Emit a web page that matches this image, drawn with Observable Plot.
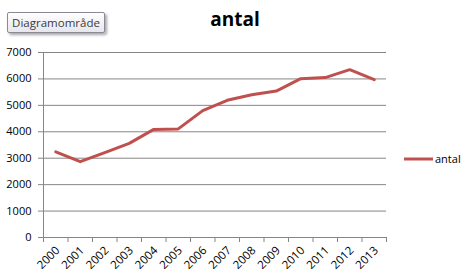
<!DOCTYPE html>
<html>
<head>
<meta charset="utf-8">
<script src="https://cdn.jsdelivr.net/npm/d3@7"></script>
<script src="https://cdn.jsdelivr.net/npm/@observablehq/plot@0.6"></script>
<style>
  html, body { margin: 0; padding: 0; background: #fff; }
  #wrap { position: relative; width: 470px; height: 279px; overflow: hidden; font-family: "Open Sans", sans-serif; }
  #title { position: absolute; left: 0; width: 470px; top: 6px; text-align: center; font-weight: bold; font-size: 19px; color: #000; line-height: 26px; }
  #btn { position: absolute; left: 7px; top: 12px; width: 96px; height: 19px; border: 1px solid #8a8a96; border-radius: 2px;
         background: linear-gradient(#ffffff, #e6e6ee); box-shadow: 2px 2px 3px rgba(0,0,0,0.35);
         font-size: 11.5px; line-height: 19px; text-align: center; color: #3a3a3a; }
  #legend { position: absolute; left: 404px; top: 151px; font-size: 11px; color: #000; display: flex; align-items: center; }
  #legend svg { display: block; }
</style>
</head>
<body>
<div id="wrap">
  <div id="chart"></div>
  <div id="title"></div>
  <div id="btn">Diagramområde</div>
  <div id="legend"></div>
</div>
<script>
const seriesName = "antal";
const years = [2000, 2001, 2002, 2003, 2004, 2005, 2006, 2007, 2008, 2009, 2010, 2011, 2012, 2013];
const values = [3240, 2870, 3215, 3560, 4090, 4110, 4800, 5190, 5400, 5540, 6010, 6050, 6350, 5970];
const yTicks = [0, 1000, 2000, 3000, 4000, 5000, 6000, 7000];
const lineColor = "#C0504D";
const gridColor = "#868686";

const data = years.map((y, i) => ({year: y, value: values[i]}));
const boundaries = [...years.map(y => y - 0.5), years[years.length - 1] + 0.5];

const chart = Plot.plot({
  width: 470,
  height: 279,
  marginLeft: 43,
  marginRight: 84,
  marginTop: 52,
  marginBottom: 42,
  style: {fontFamily: "Open Sans, sans-serif", fontSize: "11px", color: "#000", background: "transparent"},
  x: {type: "linear", domain: [years[0] - 0.5, years[years.length - 1] + 0.5]},
  y: {domain: [0, 7000]},
  marks: [
    Plot.gridY(yTicks, {stroke: gridColor, strokeOpacity: 1, strokeWidth: 1}),
    Plot.frame({anchor: "left", stroke: gridColor}),
    Plot.frame({anchor: "bottom", stroke: gridColor}),
    Plot.axisY(yTicks, {tickSize: 5, tickPadding: 7, stroke: gridColor, label: null, tickFormat: d => String(d), fill: "#000"}),
    Plot.axisX(boundaries, {tickSize: 5, tickFormat: () => "", stroke: gridColor, label: null}),
    Plot.axisX(years, {tickSize: 0, tickRotate: -45, tickPadding: 11, dx: 2, tickFormat: d => String(d), label: null, fill: "#000", fontSize: 11.5}),
    Plot.line(data, {x: "year", y: "value", stroke: lineColor, strokeWidth: 3, strokeLinejoin: "round", strokeLinecap: "round"})
  ]
});
document.getElementById("chart").appendChild(chart);
document.getElementById("title").textContent = seriesName;

const leg = document.getElementById("legend");
leg.innerHTML = `<svg width="30" height="6"><line x1="0" y1="3" x2="29" y2="3" stroke="${lineColor}" stroke-width="3"/></svg><span style="margin-left:1px">${seriesName}</span>`;
</script>
</body>
</html>
